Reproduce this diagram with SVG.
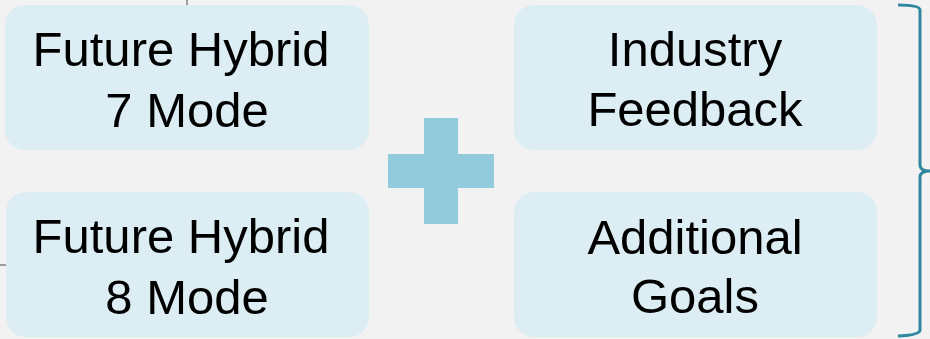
<svg xmlns="http://www.w3.org/2000/svg" width="930" height="339" viewBox="0 0 930 339">
<style>
.box{fill:#DCEEF4;}
.lbl{font-family:"Liberation Sans",Arial,sans-serif;font-size:49px;fill:#000;text-anchor:middle;}
.tick{stroke:#808080;stroke-width:1.5;fill:none;}
</style>
<rect x="0" y="0" width="930" height="339" fill="#F2F2F2"/>
<g id="connectors">
<line class="tick" x1="187" y1="0" x2="187" y2="5"/>
<line class="tick" x1="0" y1="265" x2="6" y2="265"/>
<path d="M898,5 Q920,5 920,10 L920,165 Q920,171 930,171 Q920,171 920,177 L920,330 Q920,335 898,336" fill="none" stroke="#2F87A0" stroke-width="3"/>
</g>
<g id="node-7mode">
<rect class="box" x="5" y="5" width="364" height="145" rx="20"/>
<text class="lbl" x="181" y="66">Future Hybrid</text>
<text class="lbl" x="187" y="127">7 Mode</text>
</g>
<g id="node-8mode">
<rect class="box" x="6" y="192" width="363" height="145" rx="20"/>
<text class="lbl" x="181" y="253">Future Hybrid</text>
<text class="lbl" x="187" y="314">8 Mode</text>
</g>
<g id="node-industry">
<rect class="box" x="514" y="5" width="363" height="145" rx="20"/>
<text class="lbl" x="695" y="66">Industry</text>
<text class="lbl" x="695" y="126">Feedback</text>
</g>
<g id="node-goals">
<rect class="box" x="514" y="192" width="363" height="145" rx="20"/>
<text class="lbl" x="695" y="254">Additional</text>
<text class="lbl" x="695" y="313">Goals</text>
</g>
<g id="plus">
<path d="M424,118 H458 V154 H494 V188 H458 V224 H424 V188 H388 V154 H424 Z" fill="#92CBDC"/>
</g>
</svg>
